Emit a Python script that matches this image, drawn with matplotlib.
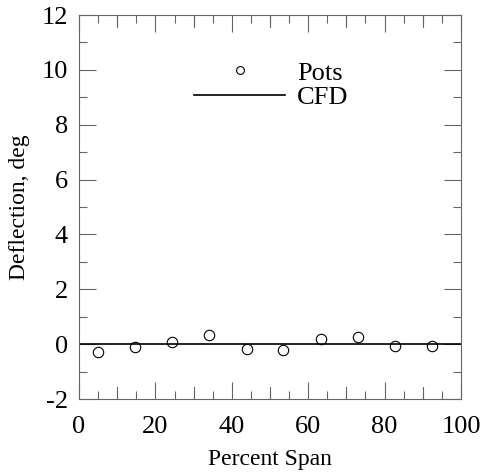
import numpy as np
import matplotlib.pyplot as plt
from matplotlib.ticker import MultipleLocator

plt.rcParams['font.family'] = ['Liberation Serif', 'DejaVu Serif']
plt.rcParams['axes.unicode_minus'] = False

# data
span_pots = [5.0, 14.7, 24.4, 34.1, 43.9, 53.5, 63.3, 73.0, 82.7, 92.4]
defl_pots = [-0.28, -0.11, 0.06, 0.32, -0.16, -0.21, 0.17, 0.26, -0.07, -0.07]
span_cfd = [0, 100]
defl_cfd = [0.0, 0.0]

fig = plt.figure(figsize=(4.82, 4.73), dpi=100)
ax = fig.add_axes([79 / 482, 74 / 473, 382 / 482, 384 / 473])

ax.plot(span_pots, defl_pots, 'o', mfc='none', mec='black', ms=7.5, mew=0.8, label='Pots')
ax.plot(span_cfd, defl_cfd, '-', color='black', lw=1.2, label='CFD')

ax.set_xlim(0, 100)
ax.set_ylim(-2, 12)
ax.xaxis.set_major_locator(MultipleLocator(20))
ax.xaxis.set_minor_locator(MultipleLocator(5))
ax.yaxis.set_major_locator(MultipleLocator(2))
ax.yaxis.set_minor_locator(MultipleLocator(1))

# every 10 on x gets a long tick too
for xv in range(10, 100, 20):
    ax.axvline(xv, ymin=0, ymax=12 / 384, color='#666666', lw=0.8)
    ax.axvline(xv, ymin=1 - 12 / 384, ymax=1, color='#666666', lw=0.8)

ax.tick_params(which='both', direction='in', top=True, right=True, color='#666666', width=0.8)
ax.tick_params(which='major', length=12, labelsize=19, pad=8)
ax.tick_params(axis='x', which='major', pad=12)
ax.tick_params(which='minor', length=6)
for s in ax.spines.values():
    s.set_color('#666666')
    s.set_linewidth(0.8)

ax.set_xlabel('Percent Span', fontsize=17, labelpad=8)
ax.set_ylabel('Deflection, deg', fontsize=17, labelpad=8)

ax.legend(loc='upper left', bbox_to_anchor=(0.301, 0.88), frameon=False, fontsize=19,
          numpoints=1, handlelength=3.45, handletextpad=0.45, labelspacing=0.05,
          borderpad=0, borderaxespad=0, markerscale=0.75)

fig.savefig('out.png', dpi=100)
